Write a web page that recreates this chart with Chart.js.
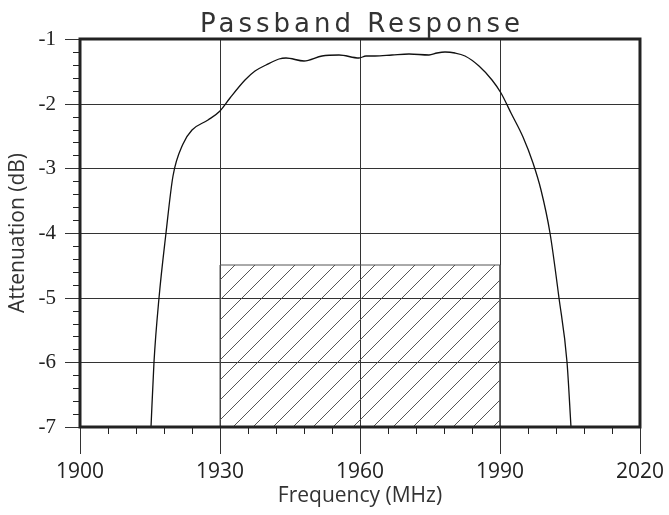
<!DOCTYPE html>
<html>
<head>
<meta charset="utf-8">
<script src="https://cdn.jsdelivr.net/npm/chart.js@4"></script>
<style>
  html, body { margin: 0; padding: 0; background: #fff; }
  #wrap { width: 669px; height: 515px; }
</style>
</head>
<body>
<div id="wrap"><canvas id="myChart"></canvas></div>
<script>
const freqMHz = [1915.2, 1915.9, 1917.0, 1918.4, 1920.0, 1922.0, 1923.9, 1927.4, 1929.9, 1932.1,
  1935.3, 1937.4, 1939.9, 1942.7, 1944.1, 1948.1, 1951.9, 1955.5, 1959.8, 1961.2,
  1963.3, 1966.9, 1970.4, 1974.7, 1976.5, 1978.3, 1980.4, 1982.5, 1985.4, 1988.2,
  1990.3, 1992.4, 1995.0, 1997.1, 1998.8, 2000.7, 2002.7, 2004.3, 2005.2]
const attenDb = [-7.0, -6.0, -5.0, -4.0, -3.12, -2.63, -2.40, -2.26, -2.12, -1.91,
  -1.64, -1.50, -1.40, -1.31, -1.30, -1.34, -1.26, -1.25, -1.29, -1.27,
  -1.27, -1.24, -1.23, -1.25, -1.22, -1.20, -1.22, -1.27, -1.42, -1.63,
  -1.83, -2.14, -2.51, -2.92, -3.33, -4.0, -5.0, -6.0, -7.0]

// spec mask (hatched box)
const maskFreq = [1930, 1930, 1990, 1990]
const maskDb = [-7, -4.5, -4.5, -7]

// axes
const xTicks = [1900, 1930, 1960, 1990, 2020]
const yTicks = [-7, -6, -5, -4, -3, -2, -1]
const xMinorStep = 6
const yMinorStep = 0.2

const canvas = document.getElementById('myChart')
const ctx = canvas.getContext('2d')

function hatch() {
  const size = 20
  const c = document.createElement('canvas')
  c.width = size
  c.height = size
  const g = c.getContext('2d')
  g.strokeStyle = '#555'
  g.lineWidth = 1
  g.beginPath()
  g.moveTo(0, size); g.lineTo(size, 0)
  g.moveTo(-2, 2); g.lineTo(2, -2)
  g.moveTo(size - 2, size + 2); g.lineTo(size + 2, size - 2)
  g.stroke()
  return ctx.createPattern(c, 'repeat')
}

const framePlugin = {
  id: 'frame',
  afterDraw(chart) {
    const { ctx, chartArea: a, scales: { x, y } } = chart
    ctx.save()
    ctx.strokeStyle = '#222'
    ctx.lineWidth = 1
    ctx.beginPath()
    for (let v = xTicks[0]; v <= xTicks[xTicks.length - 1]; v += xMinorStep) {
      if (xTicks.includes(v)) continue
      const px = Math.round(x.getPixelForValue(v)) + 0.5
      ctx.moveTo(px, a.bottom)
      ctx.lineTo(px, a.bottom + 7)
    }
    for (let i = 0; i <= 30; i++) {
      if (i % 5 === 0) continue
      const py = Math.round(y.getPixelForValue(-7 + i * yMinorStep)) + 0.5
      ctx.moveTo(a.left - 7, py)
      ctx.lineTo(a.left, py)
    }
    ctx.stroke()
    ctx.lineWidth = 3
    ctx.strokeRect(a.left, a.top, a.right - a.left, a.bottom - a.top)

    ctx.fillStyle = '#333'
    ctx.font = '26px "DejaVu Sans"'
    ctx.letterSpacing = '4px'
    ctx.textAlign = 'center'
    ctx.textBaseline = 'alphabetic'
    ctx.fillText('Passband Response', (a.left + a.right) / 2 + 2, 32)
    ctx.restore()
  }
}

const myChart = new Chart(canvas, {
  type: 'scatter',
  data: {
    datasets: [
      {
        label: 'Passband',
        data: freqMHz.map((f, i) => ({ x: f, y: attenDb[i] })),
        showLine: true,
        borderColor: '#111',
        borderWidth: 1.3,
        pointRadius: 0,
        cubicInterpolationMode: 'monotone',
        fill: false
      },
      {
        label: 'Mask',
        data: maskFreq.map((f, i) => ({ x: f, y: maskDb[i] })),
        showLine: true,
        borderColor: '#555',
        borderWidth: 1,
        pointRadius: 0,
        backgroundColor: hatch(),
        fill: 'start'
      }
    ]
  },
  plugins: [framePlugin],
  options: {
    responsive: true,
    maintainAspectRatio: false,
    animation: false,
    layout: { padding: { top: 39, right: 26, left: 0, bottom: 0 } },
    plugins: {
      legend: { display: false },
      tooltip: { enabled: false },
      title: { display: false }
    },
    scales: {
      x: {
        type: 'linear',
        min: 1900,
        max: 2020,
        alignToPixels: true,
        afterBuildTicks: (s) => { s.ticks = xTicks.map(v => ({ value: v })) },
        afterFit: (s) => { s.height = 88 },
        grid: { color: '#333', lineWidth: 1, tickLength: 27, tickColor: '#333' },
        border: { display: false },
        ticks: {
          color: '#222',
          padding: 5,
          font: { family: 'Open Sans', size: 21 },
          callback: (v) => String(v)
        },
        title: {
          display: true,
          text: 'Frequency (MHz)',
          color: '#333',
          font: { family: 'Open Sans', size: 21 },
          padding: { top: 0, bottom: 6 }
        }
      },
      y: {
        type: 'linear',
        min: -7,
        max: -1,
        alignToPixels: true,
        afterBuildTicks: (s) => { s.ticks = yTicks.map(v => ({ value: v })) },
        afterFit: (s) => { s.width = 80 },
        grid: { color: '#333', lineWidth: 1, tickLength: 15, tickColor: '#333' },
        border: { display: false },
        ticks: { color: '#222', padding: 9, font: { family: 'Liberation Sans Narrow', size: 21 } },
        title: {
          display: true,
          text: 'Attenuation (dB)',
          color: '#333',
          font: { family: 'Open Sans', size: 21 },
          padding: { top: 5, bottom: 0 }
        }
      }
    }
  }
})
</script>
</body>
</html>
